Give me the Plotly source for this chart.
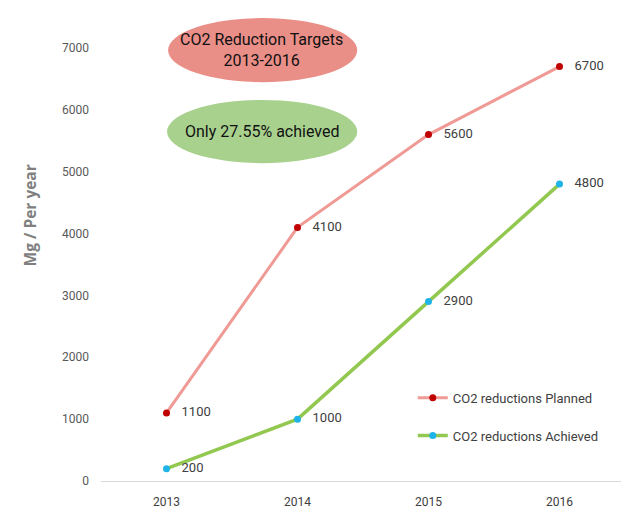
import plotly.graph_objects as go

# данные
years = ["2013", "2014", "2015", "2016"]
planned = [1100, 4100, 5600, 6700]
achieved = [200, 1000, 2900, 4800]
y_ticks = [0, 1000, 2000, 3000, 4000, 5000, 6000, 7000]

font_main = "Roboto, Arial"

fig = go.Figure()

fig.add_trace(go.Scatter(
    x=years, y=planned, name="CO2 reductions Planned",
    mode="lines+markers+text",
    line=dict(color="#F09A96", width=3),
    marker=dict(color="#C00000", size=7),
    text=["   " + str(v) for v in planned], textposition="middle right",
    textfont=dict(color="#404040", size=13),
    legendgroup="p",
))
fig.add_trace(go.Scatter(
    x=years, y=achieved, name="CO2 reductions Achieved",
    mode="lines+markers+text",
    line=dict(color="#92C850", width=3.5),
    marker=dict(color="#1FB4E8", size=7),
    text=["   " + str(v) for v in achieved], textposition="middle right",
    textfont=dict(color="#404040", size=13),
    legendgroup="a",
))

# эллипсы с подписями
fig.add_shape(type="circle", xref="paper", yref="paper",
              x0=0.128, x1=0.489, y0=0.921, y1=1.069,
              fillcolor="#EA8E88", line_width=0, layer="below")
fig.add_shape(type="circle", xref="paper", yref="paper",
              x0=0.126, x1=0.489, y0=0.734, y1=0.880,
              fillcolor="#A9D18E", line_width=0, layer="below")
fig.add_annotation(xref="paper", yref="paper", x=0.307, y=0.995,
                   xanchor="center", yanchor="middle",
                   text="CO2 Reduction Targets<br>2013-2016", showarrow=False,
                   font=dict(size=16, color="#111111", family=font_main))
fig.add_annotation(xref="paper", yref="paper", x=0.307, y=0.808,
                   xanchor="center", yanchor="middle",
                   text="Only 27.55% achieved", showarrow=False,
                   font=dict(size=16, color="#111111", family=font_main))
fig.add_annotation(xref="paper", yref="paper", x=-0.135, y=0.614,
                   xanchor="center", yanchor="middle",
                   text="<b>Mg / Per year</b>", showarrow=False, textangle=-90,
                   font=dict(size=15.5, color="#7F7F7F", family="Open Sans"))

fig.update_xaxes(range=[-0.5, 3.5], showgrid=False, showline=True,
                 linecolor="#D9D9D9", linewidth=1, ticks="",
                 tickfont=dict(size=12, color="#404040"), ticklabelstandoff=10)
fig.update_yaxes(range=[0, 7000], tickvals=y_ticks, showgrid=False,
                 zeroline=False, showline=False, ticks="",
                 tickfont=dict(size=12, color="#595959"), ticklabelstandoff=11)

# страница даёт смещение 8px, поэтому поля уменьшены
fig.update_layout(
    width=629, height=513,
    margin=dict(l=93, r=12, t=40, b=40),
    plot_bgcolor="white", paper_bgcolor="white",
    font=dict(family=font_main),
    legend=dict(x=0.595, y=0.227, xanchor="left", yanchor="top",
                font=dict(size=13, color="#404040"),
                tracegroupgap=18, bgcolor="rgba(0,0,0,0)"),
)

fig.write_html("out.html")
